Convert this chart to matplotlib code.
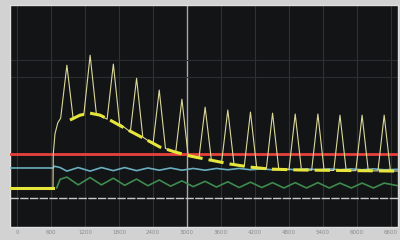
import matplotlib
matplotlib.use("Agg")
import matplotlib.pyplot as plt

# time axis (s) and trace values
tick_t = [0, 600, 1200, 1800, 2400, 3000, 3600, 4200, 4800, 5400, 6000, 6600]
tick_labels = [str(t) for t in tick_t]

thin_t = [-124, 635, 640, 670, 720, 770, 880, 990, 1180, 1290, 1400, 1590, 1700, 1810,
          2000, 2110, 2220, 2400, 2510, 2620, 2800, 2910, 3020, 3210, 3320, 3430, 3610,
          3720, 3830, 4010, 4120, 4230, 4400, 4510, 4620, 4800, 4910, 5020, 5200, 5310,
          5420, 5590, 5700, 5810, 5980, 6090, 6200, 6370, 6480, 6590, 6724]
thin_v = [17.6, 17.6, 33, 42, 47, 49, 72.9, 49.0, 50.8, 77.4, 51.0, 48.6, 73.4, 46.5,
          42.9, 67.0, 40.5, 37.5, 61.7, 35.4, 33.6, 57.6, 32.3, 30.8, 54.0, 30.2, 29.0,
          52.7, 28.2, 27.3, 51.8, 26.8, 26.2, 51.3, 26.0, 25.8, 50.9, 25.7, 25.6, 50.9,
          25.5, 25.5, 50.4, 25.4, 25.4, 50.4, 25.3, 25.3, 50.4, 25.3, 25.2]

env_t = [935, 1112, 1288, 1465, 1641, 1959, 2294, 2524, 2788, 3053, 3406, 3759, 4112,
         4465, 4994, 6724]
env_v = [48.2, 50.4, 51.3, 50.4, 48.2, 43.7, 39.2, 36.0, 33.8, 32.0, 30.2, 28.4, 27.0,
         26.1, 25.7, 25.2]
pre_t = [-124, 635]
pre_v = [17.6, 17.6]

red_t = [-124, 6724]
red_v = [32.9, 32.9]

cyan_t = [-124, 635, 660, 760, 880, 1080, 1290, 1490, 1700, 1900, 2110, 2310, 2510, 2710,
          2910, 3110, 3320, 3520, 3720, 3920, 4120, 4320, 4510, 4710, 4910, 5110, 5310,
          5510, 5700, 5900, 6090, 6290, 6480, 6724]
cyan_v = [26.6, 26.6, 27.4, 26.8, 25.2, 26.8, 25.2, 26.8, 25.4, 26.8, 25.4, 26.6, 25.6,
          26.6, 25.6, 26.4, 25.6, 26.4, 25.8, 26.4, 25.8, 26.2, 25.8, 26.2, 25.8, 26.2,
          25.8, 26.2, 25.8, 26.2, 25.8, 26.2, 25.8, 26.0]

green_t = [700, 760, 880, 1080, 1290, 1490, 1700, 1900, 2110, 2310, 2510, 2710, 2910,
           3110, 3320, 3520, 3720, 3920, 4120, 4320, 4510, 4710, 4910, 5110, 5310, 5510,
           5700, 5900, 6090, 6290, 6480, 6724]
green_v = [17.6, 21.5, 22.5, 19.0, 22.3, 19.0, 22.0, 18.8, 21.6, 18.6, 21.2, 18.4, 20.8,
           18.2, 20.6, 18.0, 20.4, 17.8, 20.2, 17.8, 20.0, 17.6, 20.0, 17.6, 20.0, 17.6,
           19.8, 17.6, 19.8, 17.6, 19.8, 18.6]

ref_t = [-124, 6724]
ref_v = [13.1, 13.1]

hgrid = [75.2, 67.5]
cursor_t = 3000

fig = plt.figure(figsize=(4, 2.4), dpi=100, facecolor="#d2d2d2")
ax = fig.add_axes([0.025, 0.054, 0.97, 0.925])
ax.set_facecolor("#121416")
ax.set_xlim(-124, 6724)
ax.set_ylim(0, 100)

for t in tick_t:
    if t == cursor_t:
        ax.axvline(t, color="#a8a8a8", lw=1.0, zorder=1)
    else:
        ax.axvline(t, color="#2e3235", lw=0.8, zorder=1)
for v in hgrid:
    ax.axhline(v, color="#2a2e31", lw=0.8, zorder=1)

ax.plot(ref_t, ref_v, color="#c8c8c8", lw=1.0, ls=(0, (6, 1)), zorder=2)
ax.plot(red_t, red_v, color="#e8413c", lw=2.0, zorder=3)
ax.plot(green_t, green_v, color="#3f8a4e", lw=1.2, zorder=3)
ax.plot(cyan_t, cyan_v, color="#6aaec0", lw=1.2, zorder=3)
ax.plot(thin_t, thin_v, color="#dcd898", lw=0.8, zorder=4)
ax.plot(pre_t, pre_v, color="#e6e63c", lw=2.2, zorder=5)
ax.plot(env_t, env_v, color="#e6e63c", lw=2.2, ls=(0, (5, 2)), zorder=5)

ax.set_xticks(tick_t)
ax.set_xticklabels(tick_labels, fontsize=4, color="#8a8a8a")
ax.tick_params(axis="x", length=0, pad=2)
ax.set_yticks([])
for s in ax.spines.values():
    s.set_color("#e0e0e0")
    s.set_linewidth(1.0)

fig.savefig("out.png", dpi=100, facecolor=fig.get_facecolor())
